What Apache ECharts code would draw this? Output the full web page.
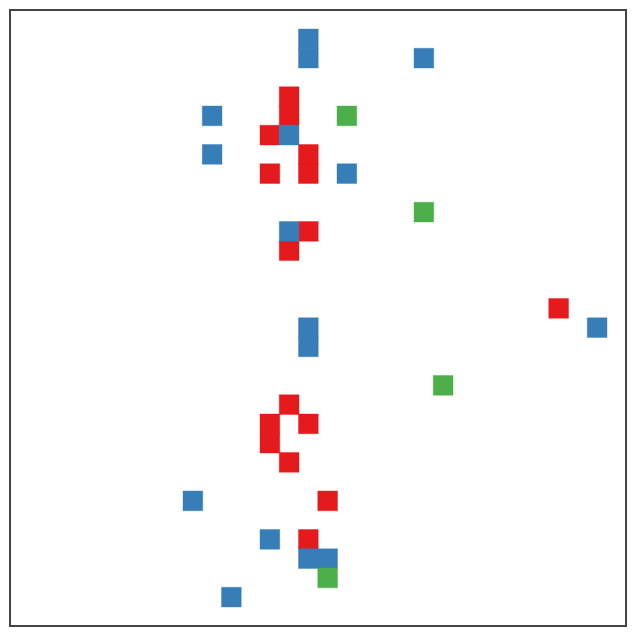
<!DOCTYPE html>
<html>
<head>
<meta charset="utf-8">
<script src="https://cdn.jsdelivr.net/npm/echarts@6/dist/echarts.min.js"></script>
<style>html,body{margin:0;padding:0;background:#fff;}#c{width:636px;height:636px;}</style>
</head>
<body>
<div id="c"></div>
<script>
// grid size (columns x rows)
const nCols = 32;
const nRows = 32;
const colCats = Array.from({length: nCols}, (_, i) => String(i));
const rowCats = Array.from({length: nRows}, (_, i) => String(i));

// occupied cells as [column, row] (row 0 at top)
const redCells = [
  [14,4],[14,5],[13,6],[15,7],[15,8],[13,8],[15,11],[14,12],
  [28,15],[14,20],[13,21],[15,21],[13,22],[14,23],[16,25],[15,27]
];
const blueCells = [
  [15,1],[15,2],[21,2],[10,5],[14,6],[10,7],[17,8],[14,11],
  [30,16],[15,16],[15,17],[9,25],[13,27],[15,28],[16,28],[11,30]
];
const greenCells = [
  [17,5],[21,10],[22,19],[16,29]
];

const chart = echarts.init(document.getElementById('c'), null, {renderer: 'canvas'});
function mk(name, cells, color) {
  return {
    name: name, type: 'heatmap',
    data: cells.map(c => [c[0], c[1], 1]),
    itemStyle: {color: color, borderColor: color, borderWidth: 0.4},
    emphasis: {disabled: true},
    animation: false
  };
}
chart.setOption({
  animation: false,
  backgroundColor: '#ffffff',
  grid: {left: 10, top: 10, width: 616, height: 616, show: true,
         borderColor: '#444444', borderWidth: 2, backgroundColor: 'transparent'},
  xAxis: {type: 'category', data: colCats, axisLine: {show: false}, axisTick: {show: false},
          axisLabel: {show: false}, splitLine: {show: false}},
  yAxis: {type: 'category', data: rowCats, inverse: true, axisLine: {show: false},
          axisTick: {show: false}, axisLabel: {show: false}, splitLine: {show: false}},
  series: [
    mk('red', redCells, '#e41a1c'),
    mk('blue', blueCells, '#377eb8'),
    mk('green', greenCells, '#4daf4a')
  ]
});
</script>
</body>
</html>
